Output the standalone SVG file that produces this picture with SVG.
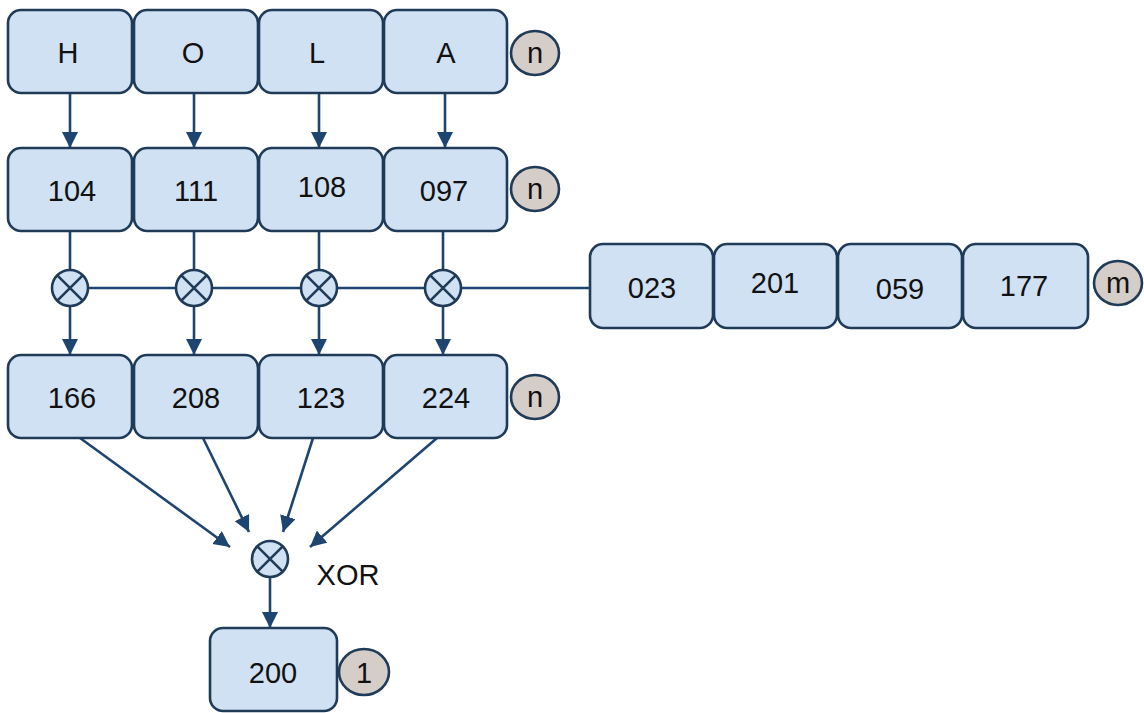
<svg xmlns="http://www.w3.org/2000/svg" width="1144" height="713" viewBox="0 0 1144 713">
<style>
.box{fill:#cfe1f3;stroke:#1f3b57;stroke-width:2.6}
.tag{fill:#d5cdc7;stroke:#1f3b57;stroke-width:2.6}
.op{fill:#cfe1f3;stroke:#1f3b57;stroke-width:2.6}
.opx{stroke:#1f3b57;stroke-width:2.6;fill:none}
.ln{stroke:#1e4470;stroke-width:2.6;fill:none}
.t{font-family:"Liberation Sans",Arial,sans-serif;font-size:29px;fill:#111;text-anchor:middle}
</style>
<defs>
<marker id="ah" markerUnits="userSpaceOnUse" markerWidth="16" markerHeight="18" refX="16" refY="8" orient="auto">
<path d="M0,0 L16,8 L0,16 Z" fill="#1e4470"/>
</marker>
</defs>
<rect width="1144" height="713" fill="#ffffff"/>
<g id="connectors">
<line class="ln" x1="70" y1="93" x2="70" y2="148" marker-end="url(#ah)"/>
<line class="ln" x1="194" y1="93" x2="194" y2="148" marker-end="url(#ah)"/>
<line class="ln" x1="319" y1="93" x2="319" y2="148" marker-end="url(#ah)"/>
<line class="ln" x1="445" y1="93" x2="445" y2="148" marker-end="url(#ah)"/>
<line class="ln" x1="70" y1="231" x2="70" y2="270"/>
<line class="ln" x1="194" y1="231" x2="194" y2="270"/>
<line class="ln" x1="319" y1="231" x2="319" y2="270"/>
<line class="ln" x1="443" y1="231" x2="443" y2="270"/>
<line class="ln" x1="70" y1="288" x2="590" y2="288"/>
<line class="ln" x1="70" y1="306" x2="70" y2="355" marker-end="url(#ah)"/>
<line class="ln" x1="194" y1="306" x2="194" y2="355" marker-end="url(#ah)"/>
<line class="ln" x1="319" y1="306" x2="319" y2="355" marker-end="url(#ah)"/>
<line class="ln" x1="443" y1="306" x2="443" y2="355" marker-end="url(#ah)"/>
<line class="ln" x1="80" y1="438" x2="230" y2="547" marker-end="url(#ah)"/>
<line class="ln" x1="203" y1="438" x2="249" y2="532" marker-end="url(#ah)"/>
<line class="ln" x1="313" y1="438" x2="283" y2="532" marker-end="url(#ah)"/>
<line class="ln" x1="437" y1="438" x2="310" y2="547" marker-end="url(#ah)"/>
<line class="ln" x1="270" y1="578" x2="270" y2="628" marker-end="url(#ah)"/>
</g>
<g id="row1">
<g id="n-H"><rect class="box" x="8" y="10" width="124" height="83" rx="13"/><text class="t" x="68" y="63">H</text></g>
<g id="n-O"><rect class="box" x="134" y="10" width="124" height="83" rx="13"/><text class="t" x="193" y="63">O</text></g>
<g id="n-L"><rect class="box" x="259" y="10" width="124" height="83" rx="13"/><text class="t" x="317" y="63">L</text></g>
<g id="n-A"><rect class="box" x="384" y="10" width="123" height="83" rx="13"/><text class="t" x="446" y="63">A</text></g>
<g id="tag1"><ellipse class="tag" cx="535" cy="53" rx="24" ry="22"/><text class="t" x="535" y="63">n</text></g>
</g>
<g id="row2">
<g id="n-104"><rect class="box" x="8" y="148" width="124" height="83" rx="13"/><text class="t" x="72" y="201">104</text></g>
<g id="n-111"><rect class="box" x="134" y="148" width="124" height="83" rx="13"/><text class="t" x="196" y="201">111</text></g>
<g id="n-108"><rect class="box" x="259" y="148" width="124" height="83" rx="13"/><text class="t" x="322" y="197">108</text></g>
<g id="n-097"><rect class="box" x="384" y="148" width="123" height="83" rx="13"/><text class="t" x="444" y="201">097</text></g>
<g id="tag2"><ellipse class="tag" cx="535" cy="189" rx="24" ry="22"/><text class="t" x="535" y="199">n</text></g>
</g>
<g id="xor-row">
<g id="x1"><circle class="op" cx="70" cy="288" r="18"/><path class="opx" d="M57.3,275.3 L82.7,300.7 M82.7,275.3 L57.3,300.7"/></g>
<g id="x2"><circle class="op" cx="194" cy="288" r="18"/><path class="opx" d="M181.3,275.3 L206.7,300.7 M206.7,275.3 L181.3,300.7"/></g>
<g id="x3"><circle class="op" cx="319" cy="288" r="18"/><path class="opx" d="M306.3,275.3 L331.7,300.7 M331.7,275.3 L306.3,300.7"/></g>
<g id="x4"><circle class="op" cx="443" cy="288" r="18"/><path class="opx" d="M430.3,275.3 L455.7,300.7 M455.7,275.3 L430.3,300.7"/></g>
</g>
<g id="key">
<g id="n-023"><rect class="box" x="590" y="244" width="123" height="84" rx="13"/><text class="t" x="652" y="298">023</text></g>
<g id="n-201"><rect class="box" x="714" y="244" width="123" height="84" rx="13"/><text class="t" x="775" y="293">201</text></g>
<g id="n-059"><rect class="box" x="838" y="244" width="124" height="84" rx="13"/><text class="t" x="900" y="299">059</text></g>
<g id="n-177"><rect class="box" x="963" y="244" width="125" height="84" rx="13"/><text class="t" x="1024" y="296">177</text></g>
<g id="tagm"><ellipse class="tag" cx="1118" cy="283" rx="24" ry="22"/><text class="t" x="1118" y="293">m</text></g>
</g>
<g id="row4">
<g id="n-166"><rect class="box" x="8" y="355" width="124" height="83" rx="13"/><text class="t" x="72" y="408">166</text></g>
<g id="n-208"><rect class="box" x="134" y="355" width="124" height="83" rx="13"/><text class="t" x="196" y="408">208</text></g>
<g id="n-123"><rect class="box" x="259" y="355" width="124" height="83" rx="13"/><text class="t" x="321" y="408">123</text></g>
<g id="n-224"><rect class="box" x="384" y="355" width="123" height="83" rx="13"/><text class="t" x="446" y="408">224</text></g>
<g id="tag4"><ellipse class="tag" cx="535" cy="397" rx="24" ry="22"/><text class="t" x="535" y="407">n</text></g>
</g>
<g id="xor-final">
<circle class="op" cx="270" cy="559" r="18"/><path class="opx" d="M257.3,546.3 L282.7,571.7 M282.7,546.3 L257.3,571.7"/>
<text class="t" x="348" y="585">XOR</text>
</g>
<g id="result">
<g id="n-200"><rect class="box" x="210" y="628" width="127" height="83" rx="13"/><text class="t" x="273" y="683">200</text></g>
<g id="tag5"><ellipse class="tag" cx="364" cy="672" rx="25" ry="23"/><text class="t" x="364" y="683">1</text></g>
</g>
</svg>
